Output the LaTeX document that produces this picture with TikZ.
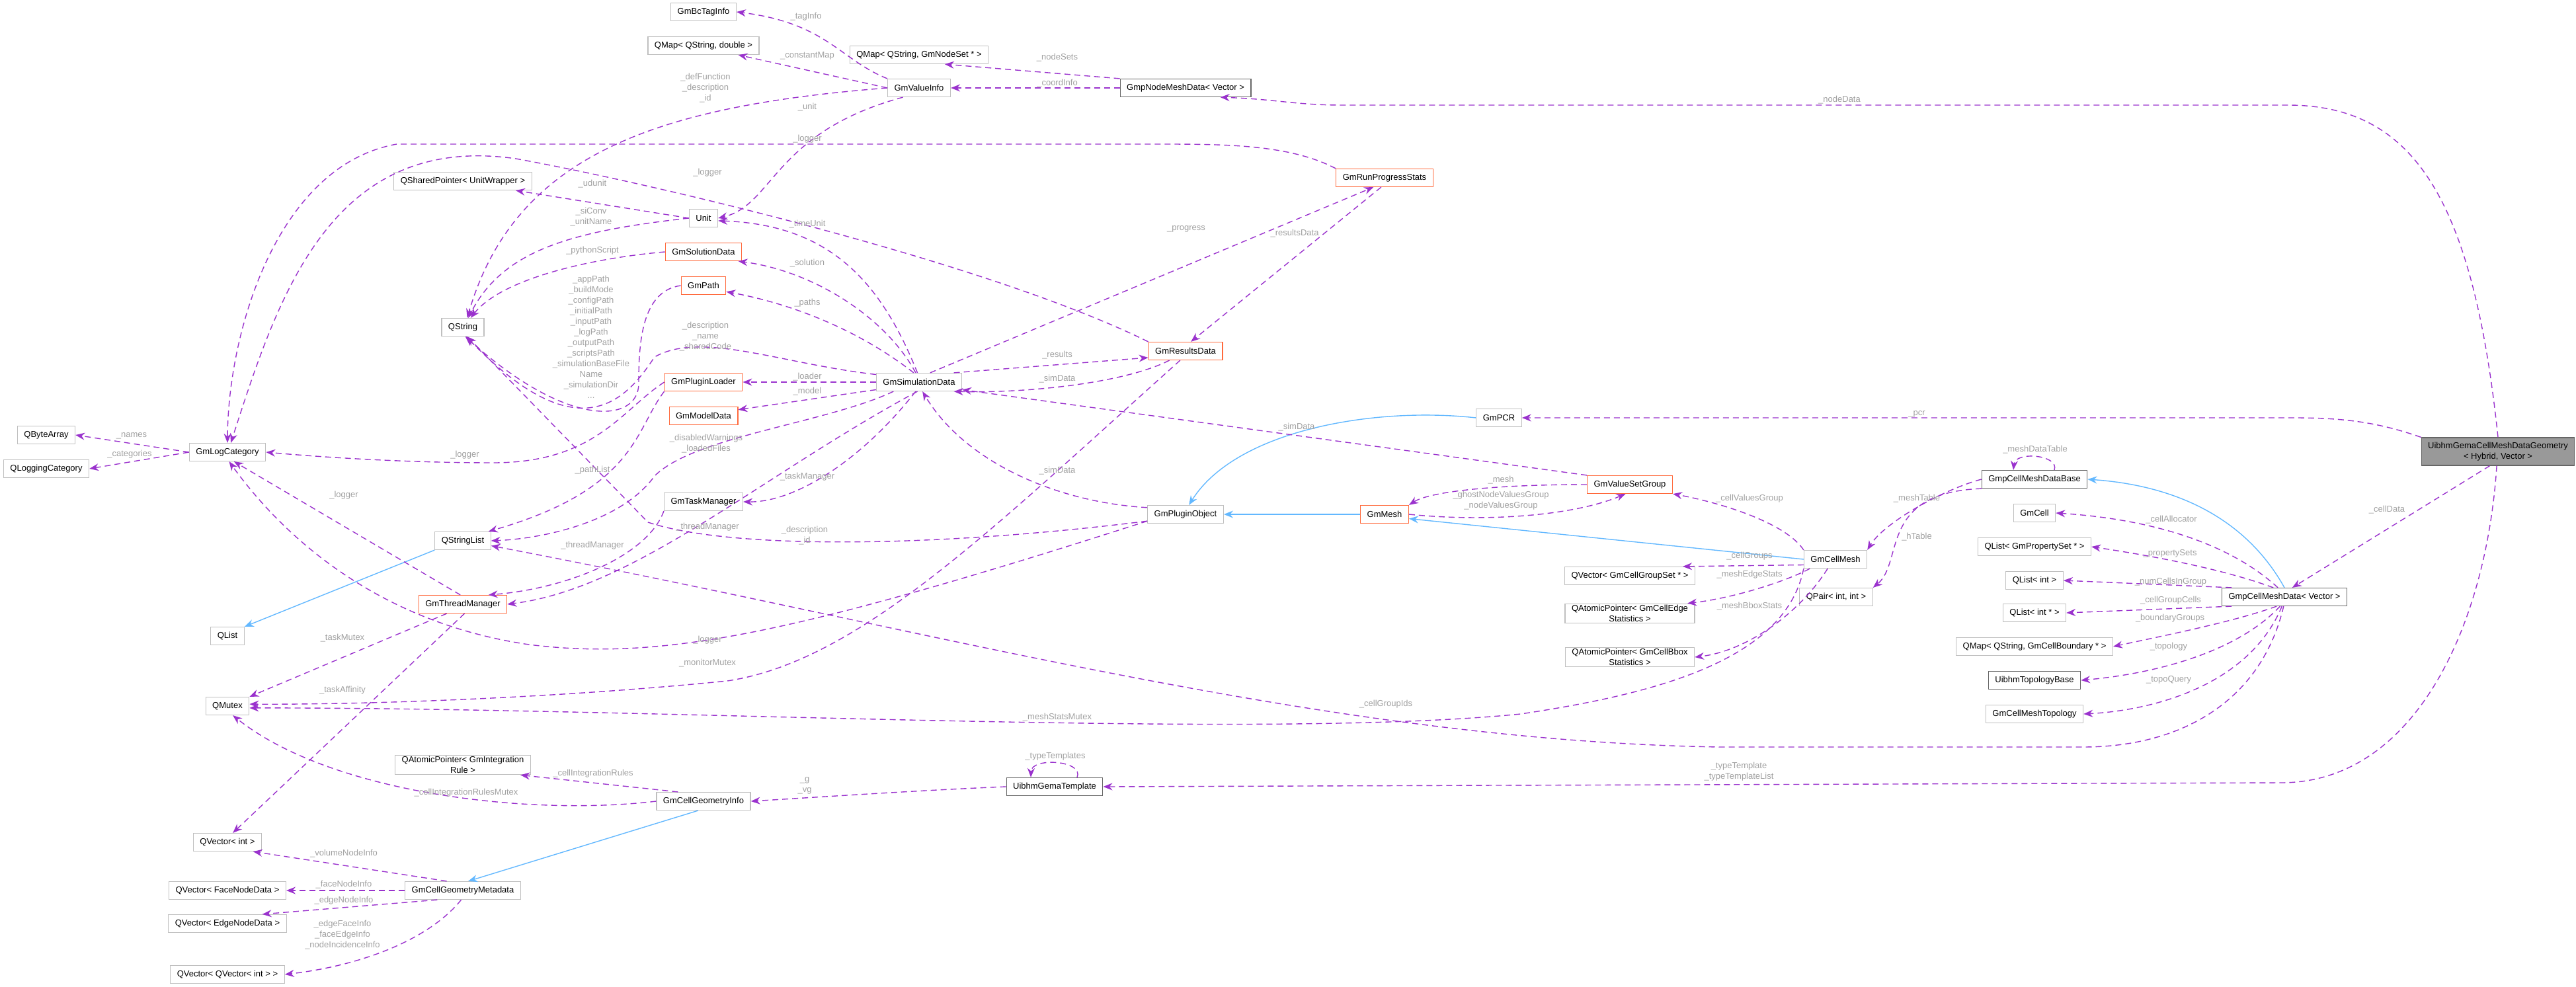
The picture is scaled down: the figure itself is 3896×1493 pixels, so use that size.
\documentclass[tikz,border=0pt]{standalone}
\usepackage{fontspec}
\setmainfont{Liberation Sans}
\usetikzlibrary{arrows.meta}
\definecolor{purp}{HTML}{9A32CD}
\definecolor{lblue}{HTML}{63B8FF}
\definecolor{orng}{HTML}{FF6A3D}
\definecolor{bgray}{HTML}{BFBFBF}
\definecolor{dgray}{HTML}{666666}
\definecolor{lgray}{HTML}{A0A0A0}
\definecolor{mainfill}{HTML}{999999}
\begin{document}
\begin{tikzpicture}[x=0.5pt,y=-0.5pt,
 box/.style={draw=bgray,fill=white,line width=0.6pt,font=\fontsize{6.5}{8}\selectfont,minimum height=13.5pt,inner xsep=5pt,inner ysep=1pt,align=center},
 hot/.style={box,draw=orng},
 dark/.style={box,draw=dgray},
 rel/.style={draw=purp,dash pattern=on 4.5pt off 3pt,line width=0.7pt,-{Stealth[length=7pt,width=5.5pt]}},
 inh/.style={draw=lblue,line width=0.7pt,-{Stealth[length=7pt,width=5.5pt]}},
 lab/.style={text=lgray,font=\fontsize{6.5}{8}\selectfont,align=center,inner sep=0.5pt}]
\useasboundingbox (0,0) rectangle (3896,1493);
% nodes
\node[box] (tag) at (1064,18) {GmBcTagInfo};
\node[box] (qmd) at (1064,69) {QMap< QString, double >};
\node[box] (qmns) at (1390,83) {QMap< QString, GmNodeSet * >};
\node[box] (vinfo) at (1390,133) {GmValueInfo};
\node[dark] (gnmd) at (1793,133) {GmpNodeMeshData< Vector >};
\node[box] (qsp) at (700,274) {QSharedPointer< UnitWrapper >};
\node[box] (unit) at (1064,330) {Unit};
\node[hot] (sol) at (1064,381) {GmSolutionData};
\node[hot] (path) at (1064,432) {GmPath};
\node[box] (qstr) at (700,495) {QString};
\node[hot] (loader) at (1064,578) {GmPluginLoader};
\node[hot] (model) at (1064,629) {GmModelData};
\node[box] (qba) at (70,658) {QByteArray};
\node[box] (qlc) at (70,709) {QLoggingCategory};
\node[box] (lc) at (344,684) {GmLogCategory};
\node[box] (tmgr) at (1064,759) {GmTaskManager};
\node[box] (qsl) at (700,818) {QStringList};
\node[hot] (tm) at (700,914) {GmThreadManager};
\node[box] (qlist) at (344,962) {QList};
\node[box] (qm) at (344,1068) {QMutex};
\node[box] (qap) at (700,1157) {QAtomicPointer< GmIntegration\\Rule >};
\node[box] (cgi) at (1064,1212) {GmCellGeometryInfo};
\node[box] (qvi) at (344,1274) {QVector< int >};
\node[box] (cgm) at (700,1347) {GmCellGeometryMetadata};
\node[box] (qvf) at (344,1347) {QVector< FaceNodeData >};
\node[box] (qve) at (344,1397) {QVector< EdgeNodeData >};
\node[box] (qvv) at (344,1474) {QVector< QVector< int > >};
\node[hot] (rps) at (2094,269) {GmRunProgressStats};
\node[hot] (rd) at (1793,531) {GmResultsData};
\node[box] (sim) at (1390,578) {GmSimulationData};
\node[box] (pcr) at (2267,632) {GmPCR};
\node[hot] (vsg) at (2465,733) {GmValueSetGroup};
\node[box] (po) at (1793,778) {GmPluginObject};
\node[hot] (mesh) at (2094,778) {GmMesh};
\node[box] (qvcgs) at (2465,871) {QVector< GmCellGroupSet * >};
\node[box] (qape) at (2465,928) {QAtomicPointer< GmCellEdge\\Statistics >};
\node[box] (qabb) at (2465,994) {QAtomicPointer< GmCellBbox\\Statistics >};
\node[dark] (ugt) at (1595,1190) {UibhmGemaTemplate};
\node[draw=dgray,fill=mainfill,line width=0.6pt,font=\fontsize{6.5}{8}\selectfont,align=center,minimum height=21pt,inner xsep=5pt,inner ysep=1pt] (uibhm) at (3778,683) {UibhmGemaCellMeshDataGeometry\\< Hybrid, Vector >};
\node[dark] (gcmdb) at (3077,725) {GmpCellMeshDataBase};
\node[box] (gcell) at (3077,776) {GmCell};
\node[box] (qlps) at (3077,827) {QList< GmPropertySet * >};
\node[box] (qli) at (3077,878) {QList< int >};
\node[box] (qlip) at (3077,927) {QList< int * >};
\node[box] (qmcb) at (3077,978) {QMap< QString, GmCellBoundary * >};
\node[dark] (utb) at (3077,1029) {UibhmTopologyBase};
\node[box] (cmt) at (3077,1080) {GmCellMeshTopology};
\node[dark] (gcmd) at (3455,903) {GmpCellMeshData< Vector >};
\node[box] (cm) at (2776,846) {GmCellMesh};
\node[box] (qpair) at (2777,903) {QPair< int, int >};
% inheritance
\draw[inh] (qsl.south west) -- (qlist.north east);
\draw[inh] (cgi.-120) -- (cgm.60);
\draw[inh] (pcr.west) .. controls (2080,615) and (1870,650) .. (po.70);
\draw[inh] (mesh.west) -- (po.east);
\draw[inh] (cm.west) -- (mesh.-10);
\draw[inh] (gcmd.north) .. controls (3400,790) and (3300,735) .. (gcmdb.east);
% relations
\draw[rel] (vinfo.north west) .. controls (1270,90) and (1250,35) .. (tag.east);
\draw[rel] (vinfo.west) -- (qmd.-15);
\draw[rel] (vinfo.west) .. controls (1000,160) and (780,230) .. (qstr.65);
\draw[rel] (vinfo.-150) .. controls (1170,200) and (1170,310) .. (unit.east);
\draw[rel] (gnmd.north west) -- (qmns.-20);
\draw[rel] (gnmd.west) -- (vinfo.east);
\draw[rel] (uibhm.north) .. controls (3740,300) and (3650,159) .. (3460,159) -- (2030,159) .. controls (1960,159) and (1930,150) .. (gnmd.-15);
\draw[rel] (rps.north west) .. controls (1950,218) and (1850,218) .. (1750,218) -- (600,218) .. controls (420,250) and (345,500) .. (lc.north);
\draw[rel] (rd.north west) .. controls (1500,400) and (1000,280) .. (780,240) .. controls (500,200) and (420,450) .. (lc.70);
\draw[rel] (unit.west) -- (qsp.-10);
\draw[rel] (unit.west) .. controls (860,350) and (760,380) .. (qstr.60);
\draw[rel] (sim.100) .. controls (1330,420) and (1250,340) .. (unit.-10);
\draw[rel] (sol.west) .. controls (900,390) and (760,420) .. (qstr.50);
\draw[rel] (sim.110) .. controls (1340,480) and (1230,410) .. (sol.-15);
\draw[rel] (sim.120) .. controls (1300,500) and (1200,460) .. (path.-15);
\draw[rel] (path.west) .. controls (970,440) and (966,520) .. (966,580) .. controls (966,640) and (860,650) .. (qstr.-75);
\draw[rel] (sim.170) .. controls (1180,550) and (1060,500) .. (990,540) .. controls (950,600) and (880,690) .. (qstr.-70);
\draw[rel] (po.-170) .. controls (1400,830) and (1100,830) .. (980,790) -- (qstr.-65);
\draw[rel] (sim.west) -- (loader.east);
\draw[rel] (sim.-170) -- (model.10);
\draw[rel] (loader.west) .. controls (940,620) and (900,700) .. (746,700) .. controls (600,700) and (470,690) .. (lc.east);
\draw[rel] (loader.south west) .. controls (960,650) and (962,740) .. (qsl.20);
\draw[rel] (sim.-160) .. controls (1250,640) and (1050,660) .. (990,720) .. controls (940,790) and (820,815) .. (qsl.east);
\draw[rel] (lc.west) -- (qba.east);
\draw[rel] (lc.west) -- (qlc.east);
\draw[rel] (tm.105) -- (lc.-55);
\draw[rel] (sim.-110) .. controls (1300,700) and (1200,760) .. (tmgr.east);
\draw[rel] (tmgr.south west) .. controls (980,840) and (860,890) .. (tm.20);
\draw[rel] (sim.-100) .. controls (1150,720) and (960,890) .. (tm.east);
\draw[rel] (po.170) .. controls (1600,760) and (1460,700) .. (sim.-70);
\draw[rel] (po.190) .. controls (1200,960) and (1000,1000) .. (800,975) .. controls (560,940) and (420,800) .. (lc.-80);
\draw[rel] (rd.-120) .. controls (1500,800) and (1300,1000) .. (1100,1030) .. controls (800,1060) and (500,1066) .. (qm.5);
\draw[rel] (cm.south west) .. controls (2700,1000) and (2500,1050) .. (2300,1080) .. controls (1900,1120) and (1000,1070) .. (qm.-5);
\draw[rel] (tm.-150) -- (qm.north east);
\draw[rel] (tm.-80) -- (qvi.60);
\draw[rel] (cgi.160) -- (qap.-10);
\draw[rel] (cgi.west) .. controls (800,1235) and (500,1200) .. (qm.-60);
\draw[rel] (ugt.west) .. controls (1400,1195) and (1250,1205) .. (cgi.east);
\draw[rel] (cgm.150) -- (qvi.-20);
\draw[rel] (cgm.west) -- (qvf.east);
\draw[rel] (cgm.-160) -- (qve.15);
\draw[rel] (cgm.-100) .. controls (650,1420) and (550,1460) .. (qvv.east);
\draw[rel] (rd.-150) .. controls (1700,580) and (1550,595) .. (sim.-15);
\draw[rel] (sim.15) -- (rd.-170);
\draw[rel] (sim.40) -- (rps.-140);
\draw[rel] (rps.-110) -- (rd.60);
\draw[rel] (vsg.north west) -- (sim.-10);
\draw[rel] (vsg.west) .. controls (2250,733) and (2160,745) .. (mesh.north east);
\draw[rel] (mesh.east) .. controls (2250,790) and (2380,780) .. (vsg.-115);
\draw[rel] (cm.north west) .. controls (2700,790) and (2600,760) .. (vsg.south east);
\draw[rel] (cm.-170) -- (qvcgs.10);
\draw[rel] (cm.-160) .. controls (2700,880) and (2620,905) .. (qape.10);
\draw[rel] (cm.-130) .. controls (2720,930) and (2640,985) .. (qabb.east);
\draw[rel] (gcmdb.west) .. controls (2940,740) and (2850,790) .. (cm.north east);
\draw[rel] (gcmdb.-170) .. controls (2840,745) and (2880,850) .. (qpair.north east);
\draw[rel] ([xshift=15pt]gcmdb.north) .. controls (3115,688) and (3048,682) .. ([xshift=-16pt]gcmdb.north);
\draw[rel] (gcmd.125) .. controls (3370,820) and (3250,785) .. (gcell.east);
\draw[rel] (gcmd.140) .. controls (3360,860) and (3250,840) .. (qlps.east);
\draw[rel] (gcmd.170) -- (qli.east);
\draw[rel] (gcmd.-170) -- (qlip.east);
\draw[rel] (gcmd.-130) .. controls (3380,940) and (3280,960) .. (qmcb.east);
\draw[rel] (gcmd.-115) .. controls (3380,990) and (3250,1020) .. (utb.east);
\draw[rel] (gcmd.-105) .. controls (3400,1040) and (3250,1075) .. (cmt.east);
\draw[rel] (gcmd.-95) .. controls (3420,1060) and (3300,1130) .. (3150,1130) -- (2600,1130) .. controls (2000,1120) and (1400,950) .. (qsl.-10);
\draw[rel] (uibhm.-120) -- (gcmd.50);
\draw[rel] (uibhm.north west) .. controls (3600,640) and (3550,632) .. (3470,632) -- (pcr.east);
\draw[rel] (uibhm.-95) .. controls (3760,950) and (3650,1184) .. (3450,1184) -- (ugt.east);
\draw[rel] ([xshift=17pt]ugt.north) .. controls (1640,1150) and (1560,1145) .. ([xshift=-18pt]ugt.north);
% labels
\node[lab] (l1) at (1219,25) {\_tagInfo};
\node[lab] (l2) at (1221,84) {\_constantMap};
\node[lab] (l3) at (1067,133) {\_defFunction\\\_description\\\_id};
\node[lab] (l4) at (1221,162) {\_unit};
\node[lab] (l5) at (1221,210) {\_logger};
\node[lab] (l6) at (1070,261) {\_logger};
\node[lab] (l7) at (896,278) {\_udunit};
\node[lab] (l8) at (894,328) {\_siConv\\\_unitName};
\node[lab] (l9) at (1221,339) {\_timeUnit};
\node[lab] (l10) at (896,379) {\_pythonScript};
\node[lab] (l11) at (1221,398) {\_solution};
\node[lab] (l12) at (894,510) {\_appPath\\\_buildMode\\\_configPath\\\_initialPath\\\_inputPath\\\_logPath\\\_outputPath\\\_scriptsPath\\\_simulationBaseFile\\Name\\\_simulationDir\\...};
\node[lab] (l13) at (1221,458) {\_paths};
\node[lab] (l14) at (1067,509) {\_description\\\_name\\\_sharedCode};
\node[lab] (l15) at (1221,570) {\_loader};
\node[lab] (l16) at (1221,592) {\_model};
\node[lab] (l17) at (199,659) {\_names};
\node[lab] (l18) at (196,687) {\_categories};
\node[lab] (l19) at (703,688) {\_logger};
\node[lab] (l20) at (1068,671) {\_disabledWarnings\\\_loadedFiles};
\node[lab] (l21) at (896,711) {\_pathList};
\node[lab] (l22) at (1221,721) {\_taskManager};
\node[lab] (l23) at (520,749) {\_logger};
\node[lab] (l24) at (1070,797) {\_threadManager};
\node[lab] (l25) at (896,825) {\_threadManager};
\node[lab] (l26) at (1217,810) {\_description\\\_id};
\node[lab] (l27) at (518,965) {\_taskMutex};
\node[lab] (l28) at (1070,968) {\_logger};
\node[lab] (l29) at (1070,1003) {\_monitorMutex};
\node[lab] (l30) at (518,1044) {\_taskAffinity};
\node[lab] (l31) at (897,1170) {\_cellIntegrationRules};
\node[lab] (l32) at (1217,1188) {\_g\\\_vg};
\node[lab] (l33) at (705,1199) {\_cellIntegrationRulesMutex};
\node[lab] (l34) at (520,1291) {\_volumeNodeInfo};
\node[lab] (l35) at (520,1338) {\_faceNodeInfo};
\node[lab] (l36) at (520,1362) {\_edgeNodeInfo};
\node[lab] (l37) at (518,1414) {\_edgeFaceInfo\\\_faceEdgeInfo\\\_nodeIncidenceInfo};
\node[lab] (l38) at (1599,87) {\_nodeSets};
\node[lab] (l39) at (1599,126) {\_coordInfo};
\node[lab] (l40) at (1794,346) {\_progress};
\node[lab] (l41) at (1958,353) {\_resultsData};
\node[lab] (l42) at (1599,537) {\_results};
\node[lab] (l43) at (1599,573) {\_simData};
\node[lab] (l44) at (1961,646) {\_simData};
\node[lab] (l45) at (1599,712) {\_simData};
\node[lab] (l46) at (2270,726) {\_mesh};
\node[lab] (l47) at (2782,151) {\_nodeData};
\node[lab] (l48) at (2899,626) {\_pcr};
\node[lab] (l49) at (3078,680) {\_meshDataTable};
\node[lab] (l50) at (2899,754) {\_meshTable};
\node[lab] (l51) at (2899,812) {\_hTable};
\node[lab] (l52) at (2646,754) {\_cellValuesGroup};
\node[lab] (l53) at (2270,757) {\_ghostNodeValuesGroup\\\_nodeValuesGroup};
\node[lab] (l54) at (2646,841) {\_cellGroups};
\node[lab] (l55) at (2646,869) {\_meshEdgeStats};
\node[lab] (l56) at (2646,917) {\_meshBboxStats};
\node[lab] (l57) at (3284,786) {\_cellAllocator};
\node[lab] (l58) at (3282,837) {\_propertySets};
\node[lab] (l59) at (3283,880) {\_numCellsInGroup};
\node[lab] (l60) at (3283,908) {\_cellGroupCells};
\node[lab] (l61) at (3282,935) {\_boundaryGroups};
\node[lab] (l62) at (3280,978) {\_topology};
\node[lab] (l63) at (3280,1028) {\_topoQuery};
\node[lab] (l64) at (3610,771) {\_cellData};
\node[lab] (l65) at (2630,1167) {\_typeTemplate\\\_typeTemplateList};
\node[lab] (l66) at (2096,1065) {\_cellGroupIds};
\node[lab] (l67) at (1599,1085) {\_meshStatsMutex};
\node[lab] (l68) at (1596,1144) {\_typeTemplates};
\end{tikzpicture}
\end{document}
